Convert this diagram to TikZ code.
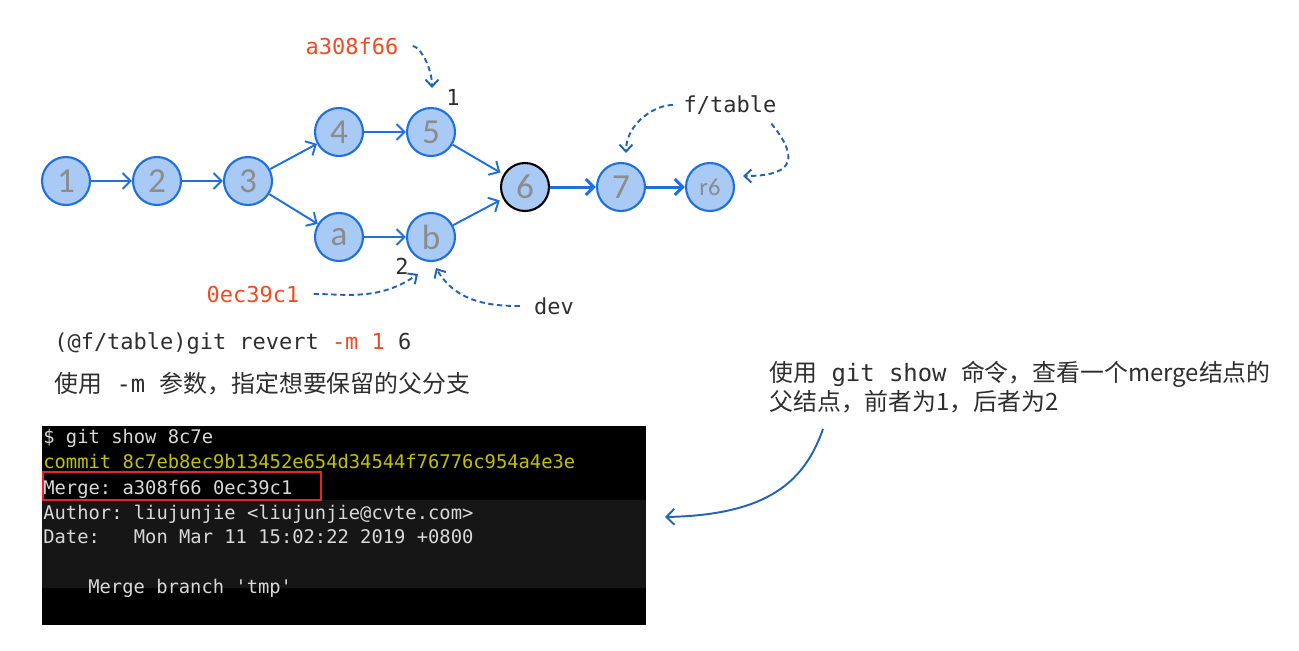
\documentclass[tikz,border=0pt]{standalone}
\usepackage{fontspec}
\setmainfont{Noto Sans CJK SC}
\setmonofont{DejaVu Sans Mono}
\newfontfamily\nodefont{Carlito}
\usetikzlibrary{positioning,arrows.meta}
\definecolor{nodefill}{HTML}{A8CAF4}
\definecolor{nodeline}{HTML}{1F70DC}
\definecolor{nodetext}{HTML}{8C8C8C}
\definecolor{hashred}{HTML}{EE4B22}
\definecolor{dashblue}{HTML}{2463B4}
\definecolor{ink}{HTML}{2E2E2E}
\definecolor{termyellow}{HTML}{C2C000}
\definecolor{termtext}{HTML}{D8D8D8}
\definecolor{termband}{HTML}{161616}
\definecolor{boxred}{HTML}{E3262A}
\tikzset{
  commit/.style={circle,draw=nodeline,fill=nodefill,line width=1.2pt,minimum size=0.96cm,inner sep=0pt,text=nodetext,font=\nodefont\fontsize{20}{20}\selectfont},
  merged/.style={commit,draw=black},
  edge/.style={-{Straight Barb[length=1.6mm,width=3.2mm]},draw=nodeline,line width=1.1pt},
  boldedge/.style={edge,line width=1.7pt},
  ref/.style={-{Straight Barb[length=1.4mm,width=2.6mm]},draw=dashblue,line width=1.1pt,dash pattern=on 3pt off 2pt},
  hash/.style={font=\ttfamily\fontsize{12.5}{15}\selectfont,text=hashred,inner sep=0pt},
  lbl/.style={font=\ttfamily\fontsize{12.5}{15}\selectfont,text=ink,inner sep=0pt},
  cjk/.style={font=\fontsize{13.6}{16}\selectfont,text=ink,inner sep=0pt,anchor=base west},
  termline/.style={anchor=base west,inner sep=0pt,font=\ttfamily\fontsize{10.7}{12}\selectfont,text=termtext},
  pointer/.style={-{Straight Barb[length=1.6mm,width=3.2mm]},draw=dashblue,line width=1.1pt}}

\begin{document}
\begin{tikzpicture}[x=0.02cm,y=-0.02cm]
  \useasboundingbox (0,0) rectangle (1299,650);
  % commit graph
  \node[commit] (c1) at (66,181) {1};
  \node[commit] (c2) at (157,181) {2};
  \node[commit] (c3) at (248,181) {3};
  \node[commit] (c4) at (339,132) {4};
  \node[commit] (c5) at (431,132) {5};
  \node[commit] (ca) at (339,237) {a};
  \node[commit] (cb) at (431,237) {b};
  \node[merged] (c6) at (525,187) {6};
  \node[commit] (c7) at (621,187) {7};
  \node[commit,font=\nodefont\fontsize{14}{14}\selectfont] (r6) at (710,187) {r6};
  \draw[edge] (c1)--(c2);
  \draw[edge] (c2)--(c3);
  \draw[edge] (c3)--(c4);
  \draw[edge] (c4)--(c5);
  \draw[edge] (c3)--(ca);
  \draw[edge] (ca)--(cb);
  \draw[edge,shorten >=2pt] (c5)--(c6);
  \draw[edge,shorten >=2pt] (cb)--(c6);
  \draw[boldedge] (c6)--(c7);
  \draw[boldedge] (c7)--(r6);
  % refs
  \node[hash] (h1) at (352,46) {a308f66};
  \node[lbl] (p1) at (453,97) {1};
  \node[hash] (h2) at (253,294) {0ec39c1};
  \node[lbl] (p2) at (402,266) {2};
  \node[lbl] (dev) at (554,306) {dev};
  \node[lbl] (ftab) at (730,105) {f/table};
  \coordinate (t1) at (432,88);
  \coordinate (t2) at (418,274);
  \coordinate (tdev) at (436,268);
  \coordinate (t7) at (626,153);
  \coordinate (tr6) at (743,176);
  \draw[ref,shorten <=8pt] (h1.east) to[out=0,in=90] (t1);
  \draw[ref,shorten <=8pt] (h2.east) to[out=0,in=215] (t2);
  \draw[ref,shorten <=8pt] (dev.west) to[out=180,in=-60] (tdev);
  \draw[ref,shorten <=6pt] (ftab.west) to[out=180,in=90] (t7);
  \draw[ref] ([xshift=-3pt,yshift=-5pt]ftab.south east) .. controls (805,165) and (785,176) .. (tr6);
  % command and notes
  \node[lbl,anchor=base west] (cmd) at (54,349) {(@f/table)git revert {\color{hashred}-m 1} 6};
  \node[cjk] (tip) at (54,392) {使用\texttt{ -m }参数，指定想要保留的父分支};
  \node[cjk] (note1) at (769,381) {使用\texttt{ git show }命令，查看一个merge结点的};
  \node[cjk] (note2) at (769,410) {父结点，前者为1，后者为2};
  % terminal
  \fill[black] (42,426) rectangle (646,625);
  \fill[termband] (42,500) rectangle (646,588);
  \node[termline] (l1) at (43,443) {\$ git show 8c7e};
  \node[termline,text=termyellow] (l2) at (43,468) {commit 8c7eb8ec9b13452e654d34544f76776c954a4e3e};
  \node[termline] (l3) at (43,494) {Merge: a308f66 0ec39c1};
  \node[termline] (l4) at (43,519) {Author: liujunjie <liujunjie@cvte.com>};
  \node[termline] (l5) at (43,543) {Date:\ \ \ Mon Mar 11 15:02:22 2019 +0800};
  \node[termline] (l6) at (88,593) {Merge branch 'tmp'};
  \draw[boxred,line width=1.1pt] (43,472) rectangle (321,500);
  \coordinate (noteTail) at (823,429);
  \coordinate (termTip) at (665,517);
  \draw[pointer] (noteTail) .. controls (805,480) and (770,515) .. (termTip);
\end{tikzpicture}
\end{document}
